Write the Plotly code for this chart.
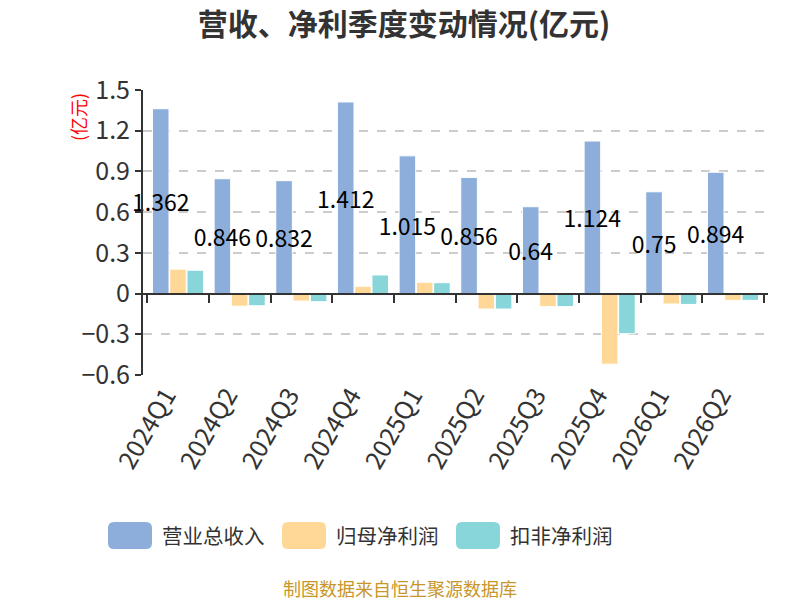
import plotly.graph_objects as go

# quarterly values, 亿元
quarters = ['2024Q1', '2024Q2', '2024Q3', '2024Q4', '2025Q1',
            '2025Q2', '2025Q3', '2025Q4', '2026Q1', '2026Q2']
revenue = [1.362, 0.846, 0.832, 1.412, 1.015, 0.856, 0.64, 1.124, 0.75, 0.894]
net_profit = [0.18, -0.093, -0.055, 0.054, 0.083, -0.114, -0.096, -0.52, -0.077, -0.05]
net_profit_ded = [0.172, -0.09, -0.06, 0.137, 0.08, -0.114, -0.096, -0.296, -0.08, -0.05]

series_names = ['营业总收入', '归母净利润', '扣非净利润']
series_colors = ['#8DAEDB', '#FFD898', '#88D6D9']

y_min, y_max = -0.6, 1.5
font_family = 'Noto Sans CJK SC'

# the page body adds an 8px margin, so the figure ends right at the window edge
W, H = 792, 592
L, R, T, B = 135, 32, 82, 225
pw, ph = W - L - R, H - T - B


def px_to_paper(x, y):
    # x, y in page pixels of the 800x600 window
    return (x - 8 - L) / pw, (H - B - (y - 8)) / ph


fig = go.Figure()

for name, color, vals in zip(series_names, series_colors, [revenue, net_profit, net_profit_ded]):
    kw = {}
    if name == '营业总收入':
        kw = dict(text=[f'{v:g}' for v in vals], textposition='inside',
                  insidetextanchor='middle', textangle=0, constraintext='none',
                  textfont=dict(size=23, color='black', family=font_family))
    fig.add_trace(go.Bar(x=quarters, y=vals, name=name, showlegend=False,
                         marker=dict(color=color, line=dict(color='white', width=1)),
                         cliponaxis=False, **kw))

# zero-line axis with ticks between the categories
fig.add_trace(go.Scatter(x=quarters, y=[None] * len(quarters), xaxis='x2',
                         showlegend=False, hoverinfo='skip'))

fig.update_layout(
    width=W, height=H,
    paper_bgcolor='white', plot_bgcolor='white',
    font=dict(family=font_family, color='#333333'),
    margin=dict(l=L, r=R, t=T, b=B, autoexpand=False),
    barmode='group', bargap=0.16, bargroupgap=0.04,
    title=dict(text='<b>营收、净利季度变动情况(亿元)</b>', x=0.5, xanchor='center',
               y=1 - 16 / H, yanchor='middle', font=dict(size=30, color='#333333')),
    xaxis=dict(
        type='category', tickangle=-60, tickfont=dict(size=25, color='#333333'),
        ticklabelshift=-12,
        showline=False, showgrid=False, zeroline=False, ticks='',
    ),
    xaxis2=dict(
        type='category', overlaying='x', anchor='free',
        position=(0 - y_min) / (y_max - y_min),
        showline=True, linecolor='#333333', linewidth=2,
        ticks='outside', tickson='boundaries', ticklen=8, tickwidth=2,
        tickcolor='#333333', showticklabels=False, showgrid=False,
        matches='x',
    ),
    yaxis=dict(
        range=[y_min, y_max], dtick=0.3, tick0=0,
        tickfont=dict(size=25, color='#333333'),
        showline=True, linecolor='#333333', linewidth=2,
        ticks='outside', ticklen=6, tickwidth=2, tickcolor='#333333',
        showgrid=True, gridcolor='#CCCCCC', griddash='dash', gridwidth=1.5,
        zeroline=False,
    ),
)

# custom legend with wide rounded swatches
legend_x = [108, 282, 456]
for name, color, lx in zip(series_names, series_colors, legend_x):
    x0, y0 = px_to_paper(lx, 549)
    x1, y1 = px_to_paper(lx + 44, 522)
    rx, ry = 6 / pw, 6 / ph
    path = (f'M {x0 + rx},{y0} L {x1 - rx},{y0} Q {x1},{y0} {x1},{y0 + ry} '
            f'L {x1},{y1 - ry} Q {x1},{y1} {x1 - rx},{y1} L {x0 + rx},{y1} '
            f'Q {x0},{y1} {x0},{y1 - ry} L {x0},{y0 + ry} Q {x0},{y0} {x0 + rx},{y0} Z')
    fig.add_shape(type='path', path=path, xref='paper', yref='paper',
                  fillcolor=color, line=dict(width=0))
    tx, ty = px_to_paper(lx + 52, 535)
    fig.add_annotation(text=name, xref='paper', yref='paper', x=tx, y=ty,
                       xanchor='left', yanchor='middle', showarrow=False,
                       font=dict(size=20.5, color='#333333', family=font_family))

ax, ay = px_to_paper(78, 117)
fig.add_annotation(text='(亿元)', xref='paper', yref='paper', x=ax, y=ay,
                   xanchor='center', yanchor='middle',
                   textangle=-90, showarrow=False,
                   font=dict(size=18, color='red', family=font_family))
sx, sy = px_to_paper(400, 588)
fig.add_annotation(text='制图数据来自恒生聚源数据库', xref='paper', yref='paper',
                   x=sx, y=sy, showarrow=False, xanchor='center', yanchor='middle',
                   font=dict(size=18, color='#C8962A', family=font_family))

fig.write_html('out.html')
